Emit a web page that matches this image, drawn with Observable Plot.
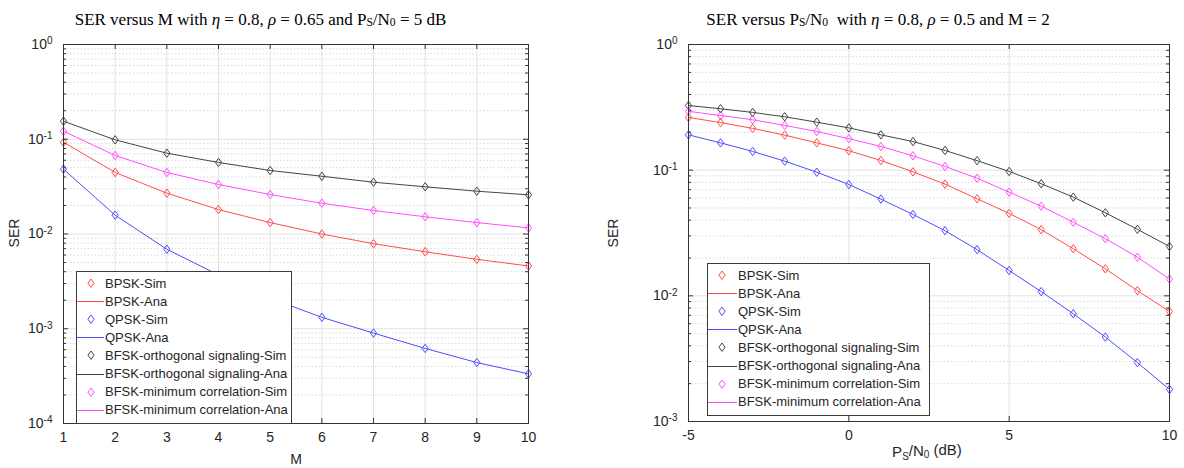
<!DOCTYPE html>
<html><head><meta charset="utf-8">
<script src="https://cdn.jsdelivr.net/npm/d3@7"></script>
<script src="https://cdn.jsdelivr.net/npm/@observablehq/plot@0.6"></script>
<style>
body{margin:0;background:#fff;}
#wrap{position:relative;width:1184px;height:468px;overflow:hidden;background:#fff;font-family:"Liberation Sans",Arial,sans-serif;color:#262626;}
.title{position:absolute;top:11px;font-family:"Liberation Serif","Times New Roman",serif;font-size:17px;line-height:17px;text-align:center;white-space:nowrap;color:#000;}
.title sub{font-size:68%;vertical-align:-0.12em;line-height:0}
.panel{position:absolute;top:30px;}
.legend{position:absolute;background:#fff;border:1px solid #3a3a3a;font-size:13px;box-sizing:border-box;padding-top:2px;color:#262626}
.row{height:18.1px;display:flex;align-items:center;white-space:nowrap}
.row svg{flex:none}
</style></head><body><div id="wrap">
<div class="title" style="left:0;width:521px">SER versus M with <i>η</i> = 0.8, <i>ρ</i> = 0.65 and P<sub>S</sub>/N<sub>0</sub> = 5 dB</div>
<div class="title" style="left:600px;width:556px">SER versus P<sub>S</sub>/N<sub>0</sub>&nbsp; with <i>η</i> = 0.8, <i>ρ</i> = 0.5 and M = 2</div>
<div id="left" class="panel" style="left:0"></div>
<div id="right" class="panel" style="left:590px"></div>
</div>
<script>
// ---------- data ----------
const mValues = [1, 2, 3, 4, 5, 6, 7, 8, 9, 10];
const serM_BPSK = [0.093, 0.0446, 0.027, 0.0181, 0.0132, 0.0100, 0.0079, 0.0065, 0.0054, 0.0046];
const serM_QPSK = [0.0483, 0.0158, 0.0069, 0.0037, 0.0021, 0.00132, 0.0009, 0.00062, 0.00044, 0.000334];
const serM_BFSKorth = [0.155, 0.0986, 0.0713, 0.0569, 0.0468, 0.0407, 0.0352, 0.0315, 0.0283, 0.0259];
const serM_BFSKmin = [0.1216, 0.0674, 0.0446, 0.0333, 0.0261, 0.0211, 0.0177, 0.0152, 0.0132, 0.0116];

const snrDb = [-5, -4, -3, -2, -1, 0, 1, 2, 3, 4, 5, 6, 7, 8, 9, 10];
const serP_BPSK = [0.263, 0.239, 0.215, 0.190, 0.165, 0.1427, 0.1195, 0.097, 0.0774, 0.0592, 0.0453, 0.0336, 0.0237, 0.0164, 0.0110, 0.0075];
const serP_QPSK = [0.191, 0.165, 0.141, 0.118, 0.0964, 0.0769, 0.0588, 0.0444, 0.033, 0.0233, 0.0159, 0.0108, 0.0072, 0.0047, 0.00294, 0.0018];
const serP_BFSKorth = [0.327, 0.308, 0.288, 0.266, 0.241, 0.217, 0.191, 0.169, 0.1435, 0.119, 0.0977, 0.078, 0.061, 0.0458, 0.0338, 0.0247];
const serP_BFSKmin = [0.294, 0.272, 0.252, 0.227, 0.203, 0.178, 0.1545, 0.130, 0.107, 0.0863, 0.0668, 0.0517, 0.0385, 0.0285, 0.0203, 0.0136];

const seriesNames = ["BPSK", "QPSK", "BFSK-orthogonal signaling", "BFSK-minimum correlation"];
const seriesColors = ["#ff4d4d", "#4d4dff", "#444444", "#ff4dff"];
const leftTicksX = [1, 2, 3, 4, 5, 6, 7, 8, 9, 10];
const rightTicksX = [-5, 0, 5, 10];

// ---------- helpers ----------
const diamond = {
  draw(ctx, size) {
    ctx.moveTo(0, -4.2); ctx.lineTo(3.1, 0); ctx.lineTo(0, 4.2); ctx.lineTo(-3.1, 0); ctx.closePath();
  }
};
function decades(lo, hi) { const a = []; for (let e = lo; e <= hi; e++) a.push(Math.pow(10, e)); return a; }
function minors(lo, hi) { const a = []; for (let e = lo; e < hi; e++) for (let k = 2; k <= 9; k++) a.push(k * Math.pow(10, e)); return a; }

function panel(cfg) {
  const {xs, ys, xTicks, yLo, yHi, width, height, mL, mR, mT, mB} = cfg;
  const fw = width - mL - mR, fh = height - mT - mB;
  const major = decades(yLo, yHi), minor = minors(yLo, yHi);
  const marks = [
    Plot.ruleY(minor, {y: d => d, stroke: "#d9d9d9", strokeDasharray: "1.5,2"}),
    Plot.ruleY(major, {y: d => d, stroke: "#e2e2e2"}),
    Plot.ruleX(xTicks, {x: d => d, stroke: "#e2e2e2"})
  ];
  ys.forEach((arr, i) => {
    const data = xs.map((x, j) => ({x, y: arr[j]}));
    marks.push(Plot.line(data, {x: "x", y: "y", stroke: seriesColors[i], strokeWidth: 1}));
    marks.push(Plot.dot(data, {x: "x", y: "y", stroke: seriesColors[i], fill: "none", symbol: diamond, r: 4, strokeWidth: 1}));
  });
  const tc = "#333";
  marks.push(
    Plot.tickY(major, {y: d => d, insetRight: fw - 5, stroke: tc}),
    Plot.tickY(major, {y: d => d, insetLeft: fw - 5, stroke: tc}),
    Plot.tickY(minor, {y: d => d, insetRight: fw - 3, stroke: tc}),
    Plot.tickY(minor, {y: d => d, insetLeft: fw - 3, stroke: tc}),
    Plot.tickX(xTicks, {x: d => d, insetBottom: fh - 5, stroke: tc}),
    Plot.tickX(xTicks, {x: d => d, insetTop: fh - 5, stroke: tc}),
    Plot.frame({stroke: "#333", strokeWidth: 1}),
    Plot.axisY({ticks: major, tickSize: 0, tickPadding: 11, label: null, tickFormat: d => String(Math.round(Math.log10(d)))}),
    Plot.axisX({ticks: xTicks, tickSize: 0, tickPadding: 9, label: null, tickFormat: d => String(d)})
  );
  const svg = Plot.plot({
    width, height, marginLeft: mL, marginRight: mR, marginTop: mT, marginBottom: mB,
    x: {domain: [xTicks[0], xTicks[xTicks.length - 1]]},
    y: {type: "log", domain: [Math.pow(10, yLo), Math.pow(10, yHi)]},
    style: {fontFamily: '"Liberation Sans", Arial, sans-serif', fontSize: "14px", color: "#262626", background: "#fff", overflow: "visible"},
    marks
  });
  d3.select(svg).selectAll('g[aria-label$="tick label"]').attr("font-size", 14);
  // superscript exponents on y tick labels
  d3.select(svg).selectAll('g[aria-label="y-axis tick label"] text').each(function () {
    const e = this.textContent;
    const t = d3.select(this);
    t.text(null);
    t.append("tspan").text("10");
    t.append("tspan").attr("dy", "-0.45em").attr("font-size", "10px").text(e);
  });
  return svg;
}

function addText(svg, build) { build(d3.select(svg)); }

// ---------- left ----------
const leftSvg = panel({xs: mValues, ys: [serM_BPSK, serM_QPSK, serM_BFSKorth, serM_BFSKmin], xTicks: leftTicksX,
  yLo: -4, yHi: 0, width: 560, height: 438, mL: 63, mR: 32, mT: 14, mB: 45});
addText(leftSvg, s => {
  s.append("text").attr("transform", "translate(19,203) rotate(-90)").attr("text-anchor", "middle")
    .attr("font-size", "14px").attr("fill", "#262626").text("SER");
  s.append("text").attr("x", 296).attr("y", 434).attr("text-anchor", "middle")
    .attr("font-size", "14px").attr("fill", "#262626").text("M");
});
document.getElementById("left").appendChild(leftSvg);

// ---------- right ----------
const rightSvg = panel({xs: snrDb, ys: [serP_BPSK, serP_QPSK, serP_BFSKorth, serP_BFSKmin], xTicks: rightTicksX,
  yLo: -3, yHi: 0, width: 594, height: 438, mL: 98, mR: 15, mT: 14, mB: 47});
addText(rightSvg, s => {
  s.append("text").attr("transform", "translate(28,203) rotate(-90)").attr("text-anchor", "middle")
    .attr("font-size", "14px").attr("fill", "#262626").text("SER");
  const t = s.append("text").attr("x", 337).attr("y", 427).attr("text-anchor", "middle")
    .attr("font-size", "15px").attr("fill", "#262626");
  t.append("tspan").text("P");
  t.append("tspan").attr("font-size", "10px").attr("dy", "0.25em").text("S");
  t.append("tspan").attr("dy", "-0.25em").text("/N");
  t.append("tspan").attr("font-size", "10px").attr("dy", "0.25em").text("0");
  t.append("tspan").attr("dy", "-0.25em").text(" (dB)");
});
document.getElementById("right").appendChild(rightSvg);

// ---------- legends ----------
function legend(left, top, width, markerX, lineEnd, textX) {
  const div = document.createElement("div");
  div.className = "legend";
  Object.assign(div.style, {left: left + "px", top: top + "px", width: width + "px"});
  seriesNames.forEach((name, i) => {
    ["Sim", "Ana"].forEach(kind => {
      const row = document.createElement("div");
      row.className = "row";
      const sv = d3.create("svg").attr("width", textX).attr("height", 14);
      if (kind === "Sim") {
        sv.append("path").attr("d", d3.line()([[markerX, 3], [markerX + 3.1, 7.2], [markerX, 11.4], [markerX - 3.1, 7.2]]) + "Z")
          .attr("fill", "none").attr("stroke", seriesColors[i]);
      } else {
        sv.append("line").attr("x1", 0).attr("x2", lineEnd).attr("y1", 7.5).attr("y2", 7.5).attr("stroke", seriesColors[i]);
      }
      row.appendChild(sv.node());
      const span = document.createElement("span");
      span.textContent = name + "-" + kind;
      row.appendChild(span);
      div.appendChild(row);
    });
  });
  div.appendChild(Object.assign(document.createElement("div"), {style: "height:4px"}));
  document.getElementById("wrap").appendChild(div);
}
legend(76, 271, 216, 14, 27, 28);
legend(707, 263, 223, 14, 29, 30);
</script>
</body></html>
